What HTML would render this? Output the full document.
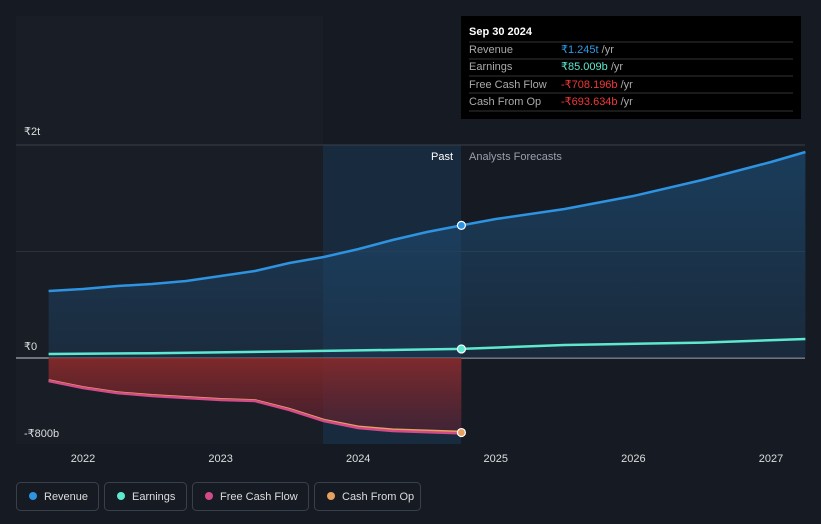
<!DOCTYPE html>
<html><head><meta charset="utf-8"><style>
body{margin:0;background:#151a23;font-family:"Liberation Sans",sans-serif;}
svg{display:block}
</style></head><body>
<svg id="c" width="821" height="524">
<defs>
<linearGradient id="rg" x1="0" y1="0" x2="0" y2="1"><stop offset="0" stop-color="#1e5a8a" stop-opacity="0.55"/><stop offset="1" stop-color="#1e3a55" stop-opacity="0.5"/></linearGradient>
<linearGradient id="fg" x1="0" y1="0" x2="0" y2="1"><stop offset="0" stop-color="#8a2a2a" stop-opacity="0.9"/><stop offset="1" stop-color="#5a2030" stop-opacity="0.6"/></linearGradient>
</defs>
<rect x="16" y="16" width="307" height="428" fill="#181d26"/>
<rect x="323" y="145" width="138" height="299" fill="#1a3550" opacity="0.6"/>
<g id="grid"></g>
<g id="marks"></g>
<text x="453" y="160" fill="#fff" font-size="11" text-anchor="end">Past</text>
<text x="469" y="160" fill="#9aa0aa" font-size="11">Analysts Forecasts</text>
<g>
<rect x="461" y="16" width="340" height="103" fill="#000"/>
<text x="469" y="35" fill="#fff" font-size="11" font-weight="bold">Sep 30 2024</text>
<line x1="469" y1="42" x2="793" y2="42" stroke="#333"/>
<text x="469" y="53" fill="#aaa" font-size="11">Revenue</text><text x="561" y="53" fill="#2e9ae8" font-size="11">₹1.245t <tspan fill="#aaa">/yr</tspan></text>
<line x1="469" y1="59" x2="793" y2="59" stroke="#333"/>
<text x="469" y="70" fill="#aaa" font-size="11">Earnings</text><text x="561" y="70" fill="#5ee8cf" font-size="11">₹85.009b <tspan fill="#aaa">/yr</tspan></text>
<line x1="469" y1="76" x2="793" y2="76" stroke="#333"/>
<text x="469" y="88" fill="#aaa" font-size="11">Free Cash Flow</text><text x="561" y="88" fill="#f0383a" font-size="11">-₹708.196b <tspan fill="#aaa">/yr</tspan></text>
<line x1="469" y1="93" x2="793" y2="93" stroke="#333"/>
<text x="469" y="105" fill="#aaa" font-size="11">Cash From Op</text><text x="561" y="105" fill="#f0383a" font-size="11">-₹693.634b <tspan fill="#aaa">/yr</tspan></text>
<line x1="469" y1="111" x2="793" y2="111" stroke="#333"/>
</g>
<g id="legend"></g>
</svg>
<script>
const revX=[2021.75,2022,2022.25,2022.5,2022.75,2023,2023.25,2023.5,2023.75,2024,2024.25,2024.5,2024.75,2025,2025.5,2026,2026.5,2027,2027.25];
const revY=[629,648,676,695,723,770,817,892,948,1023,1108,1183,1245,1305,1399,1521,1671,1840,1934];
const earnX=[2021.75,2022.5,2023.5,2024.75,2025.5,2026.5,2027.25];
const earnY=[38,45,62,85,122,145,178];
const fcfX=[2021.75,2022,2022.25,2022.5,2023,2023.25,2023.5,2023.75,2024,2024.25,2024.75];
const fcfY=[-216,-282,-330,-357,-394,-404,-488,-592,-657,-685,-708];
const cfoY=[-210,-276,-324,-350,-388,-398,-480,-582,-645,-672,-694];
const yTicks=[2000,0,-800];
const yLabels=["₹2t","₹0","-₹800b"];
const xTicks=[2022,2023,2024,2025,2026,2027];
const ns="http://www.w3.org/2000/svg";
const X=t=>83+(t-2022)*137.6;
const Y=v=>358-v*0.1065;
function el(tag,a,p){const e=document.createElementNS(ns,tag);for(const k in a)e.setAttribute(k,a[k]);(p||document.getElementById('marks')).appendChild(e);return e;}
const grid=document.getElementById('grid');
const mid=el('line',{x1:16,x2:805,y1:Y(1000),y2:Y(1000),stroke:'#2c323c','stroke-width':1},grid);


yTicks.forEach((v,i)=>{
 if(v!==-800){const l=el('line',{x1:16,x2:805,y1:Y(v),y2:Y(v),stroke:v===0?'#ccc':'#3a404a','stroke-width':1},grid);
 
 }
 const t=el('text',{x:24,y:v===2000?Y(v)-10:(v===0?Y(v)-8:Y(v)-6),fill:'#ddd','font-size':11},grid);t.textContent=yLabels[i];
 
 
});
xTicks.forEach(v=>{const t=el('text',{x:X(v),y:462,fill:'#ddd','font-size':11,'text-anchor':'middle'},grid);t.textContent=v;
 
 });
const pts=(xs,ys)=>xs.map((x,i)=>X(x).toFixed(1)+','+Y(ys[i]).toFixed(1));
let a=el('path',{d:'M'+pts(revX,revY).join('L')+'L'+X(revX[revX.length-1])+','+Y(0)+'L'+X(revX[0])+','+Y(0)+'Z',fill:'url(#rg)'});


a=el('path',{d:'M'+pts(fcfX,fcfY).join('L')+'L'+X(fcfX[fcfX.length-1])+','+Y(0)+'L'+X(fcfX[0])+','+Y(0)+'Z',fill:'url(#fg)'});


function line(xs,ys,c,n){const p=el('path',{d:'M'+pts(xs,ys).join('L'),fill:'none',stroke:c,'stroke-width':2.5});
 
 }
line(revX,revY,'#2e93e0','revenue-line');
line(earnX,earnY,'#5ee8cf','earnings-line');
line(fcfX,cfoY,'#e8a060','cash-from-op-line');
line(fcfX,fcfY,'#d24a88','fcf-line');
[[1245,'#2e93e0'],[85,'#5ee8cf'],[-700,'#e8a060']].forEach(([v,c])=>{const d=el('circle',{cx:X(2024.75),cy:Y(v),r:4,fill:c,stroke:'#fff','stroke-width':1.2});
 
 });
const lg=document.getElementById('legend');
[['Revenue','#2e93e0',16,82],['Earnings','#5ee8cf',104,82],['Free Cash Flow','#d24a88',192,116],['Cash From Op','#e8a060',314,106]].forEach(([n,c,x,w])=>{
 const g=el('g',{},lg);
 
 
 el('rect',{x:x+0.5,y:482.5,width:w,height:28,rx:4,fill:'none',stroke:'#3a404a'},g);
 el('circle',{cx:x+17,cy:496,r:4,fill:c},g);
 const t=el('text',{x:x+28,y:500,fill:'#ddd','font-size':11},g);t.textContent=n;
});
</script>
</body></html>
